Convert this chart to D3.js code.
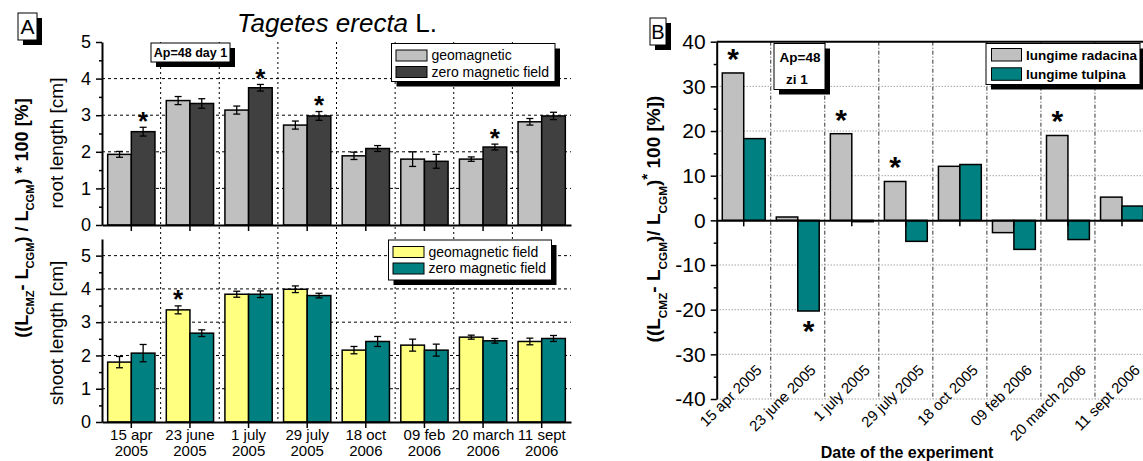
<!DOCTYPE html>
<html>
<head>
<meta charset="utf-8">
<script src="https://cdn.jsdelivr.net/npm/d3@7"></script>
<style>
    body { margin: 0; background: #fff; }
    svg { display: block; font-family: Arial, "Liberation Sans", sans-serif; }
</style>
</head>
<body>
<div id="chart"></div>
<script>
// Dates (panel A two-line labels, panel B one-line labels)
var datesA = [["15 apr", "2005"], ["23 june", "2005"], ["1 july", "2005"], ["29 july", "2005"],
              ["18 oct", "2006"], ["09 feb", "2006"], ["20 march", "2006"], ["11 sept", "2006"]];
var datesB = ["15 apr 2005", "23 june 2005", "1 july 2005", "29 july 2005",
              "18 oct 2005", "09 feb 2006", "20 march 2006", "11 sept 2006"];

// Panel A - root length [cm]
var rootGeo     = [1.93, 3.40, 3.14, 2.73, 1.89, 1.80, 1.80, 2.82];
var rootGeoErr  = [0.08, 0.11, 0.11, 0.11, 0.10, 0.20, 0.06, 0.09];
var rootZero    = [2.55, 3.32, 3.75, 2.98, 2.09, 1.74, 2.13, 2.98];
var rootZeroErr = [0.12, 0.13, 0.09, 0.12, 0.08, 0.19, 0.08, 0.10];
var rootGeoStar  = [0, 0, 0, 0, 0, 0, 0, 0];
var rootZeroStar = [1, 0, 1, 1, 0, 0, 1, 0];

// Panel A - shoot length [cm]
var shootGeo     = [1.80, 3.37, 3.84, 3.99, 2.16, 2.31, 2.55, 2.42];
var shootGeoErr  = [0.17, 0.12, 0.09, 0.10, 0.11, 0.18, 0.06, 0.10];
var shootZero    = [2.07, 2.67, 3.84, 3.80, 2.42, 2.16, 2.44, 2.51];
var shootZeroErr = [0.26, 0.10, 0.10, 0.07, 0.15, 0.18, 0.07, 0.09];
var shootGeoStar  = [0, 1, 0, 0, 0, 0, 0, 0];
var shootZeroStar = [0, 0, 0, 0, 0, 0, 0, 0];

// Panel B - relative difference [%]
var diffRoot  = [33.0, 0.75, 19.4, 8.7, 12.1, -2.75, 19.0, 5.2];
var diffShoot = [18.3, -20.3, -0.3, -4.7, 12.5, -6.5, -4.3, 3.2];
var diffRootStar  = [1, 0, 1, 1, 0, 0, 1, 0];
var diffShootStar = [0, 1, 0, 0, 0, 0, 0, 0];

var ticksTop = [0, 1, 2, 3, 4, 5],
    ticksB = [-40, -30, -20, -10, 0, 10, 20, 30, 40];

var lightGray = "#c0c0c0", darkGray = "#404040", yellow = "#ffff80", teal = "#008080";

var svg = d3.select("#chart").append("svg")
    .attr("width", 1143)
    .attr("height", 461);

// small helper: box with a black drop shadow
function shadowBox(x, y, w, h, off) {
    svg.append("rect").attr("x", x + off).attr("y", y + off).attr("width", w).attr("height", h).attr("fill", "#000");
    svg.append("rect").attr("x", x).attr("y", y).attr("width", w).attr("height", h)
        .attr("fill", "#fff").attr("stroke", "#000").attr("stroke-width", 1);
}

function star(x, cy, size) {
    svg.append("text")
        .attr("x", x)
        .attr("y", cy + 0.56 * size)
        .attr("text-anchor", "middle")
        .style("font-size", size + "px")
        .style("font-weight", "bold")
        .text("*");
}

// plain integer labels with a hyphen minus, as in the original
function plain(d) { return String(d); }

// ================= Panel A =================
var xA = d3.scaleBand().domain(d3.range(8)).range([102, 571]),
    subA = d3.scaleBand().domain([0, 1]).range([0, xA.bandwidth()]).paddingOuter(0.24),
    yTop = d3.scaleLinear().domain([0, 5]).range([225, 42]),
    yBot = d3.scaleLinear().domain([0, 5.5]).range([422, 239]);

// vertical dotted separators (through both sub-plots)
svg.append("g").selectAll("line")
    .data(d3.range(1, 8))
    .enter().append("line")
    .attr("x1", function(d) { return xA(d); })
    .attr("x2", function(d) { return xA(d); })
    .attr("y1", yTop.range()[1])
    .attr("y2", yBot.range()[0])
    .attr("stroke", "#000")
    .attr("stroke-dasharray", "2,3");

// horizontal dashed grid
function hGrid(scale, values) {
    svg.append("g").selectAll("line")
        .data(values)
        .enter().append("line")
        .attr("x1", xA.range()[0]).attr("x2", xA.range()[1])
        .attr("y1", function(d) { return scale(d); })
        .attr("y2", function(d) { return scale(d); })
        .attr("stroke", "#000")
        .attr("stroke-dasharray", "3,3");
}
hGrid(yTop, [1, 2, 3, 4]);
hGrid(yBot, [1, 2, 3, 4, 5]);

function groupBars(y, a, aErr, aStar, b, bErr, bStar, colA, colB) {
    var rows = [];
    d3.range(8).forEach(function(i) {
        rows.push({i: i, k: 0, v: a[i], e: aErr[i], s: aStar[i], c: colA});
        rows.push({i: i, k: 1, v: b[i], e: bErr[i], s: bStar[i], c: colB});
    });
    var g = svg.append("g");
    g.selectAll("rect").data(rows).enter().append("rect")
        .attr("x", function(d) { return xA(d.i) + subA(d.k); })
        .attr("y", function(d) { return y(d.v); })
        .attr("width", subA.bandwidth())
        .attr("height", function(d) { return y(0) - y(d.v); })
        .attr("fill", function(d) { return d.c; })
        .attr("stroke", "#000")
        .attr("stroke-width", 1.5);
    var cx = function(d) { return xA(d.i) + subA(d.k) + subA.bandwidth() / 2; };
    var eb = g.selectAll(".err").data(rows).enter().append("g").attr("class", "err")
        .attr("stroke", "#000").attr("stroke-width", 1.3);
    eb.append("line").attr("x1", cx).attr("x2", cx)
        .attr("y1", function(d) { return y(d.v + d.e); })
        .attr("y2", function(d) { return y(d.v - d.e); });
    eb.append("line").attr("x1", function(d) { return cx(d) - 3.5; }).attr("x2", function(d) { return cx(d) + 3.5; })
        .attr("y1", function(d) { return y(d.v + d.e); }).attr("y2", function(d) { return y(d.v + d.e); });
    eb.append("line").attr("x1", function(d) { return cx(d) - 3.5; }).attr("x2", function(d) { return cx(d) + 3.5; })
        .attr("y1", function(d) { return y(d.v - d.e); }).attr("y2", function(d) { return y(d.v - d.e); });
    rows.filter(function(d) { return d.s; }).forEach(function(d) {
        star(cx(d), y(d.v + d.e) - 12, 26);
    });
}
groupBars(yTop, rootGeo, rootGeoErr, rootGeoStar, rootZero, rootZeroErr, rootZeroStar, lightGray, darkGray);
groupBars(yBot, shootGeo, shootGeoErr, shootGeoStar, shootZero, shootZeroErr, shootZeroStar, yellow, teal);

// axes panel A
function leftAxis(scale, major, minor, x, fs) {
    var ax = svg.append("g")
        .attr("transform", "translate(" + x + ",0)")
        .call(d3.axisLeft(scale).tickValues(major).tickFormat(plain).tickSize(6).tickSizeOuter(0).tickPadding(5));
    ax.selectAll("text").style("font-size", fs + "px").attr("fill", "#000");
    ax.select(".domain").attr("stroke-width", 2);
    ax.selectAll(".tick line").attr("stroke-width", 1.5);
    var mn = svg.append("g")
        .attr("transform", "translate(" + x + ",0)")
        .call(d3.axisLeft(scale).tickValues(minor).tickSize(3).tickFormat(""));
    mn.select(".domain").remove();
    mn.selectAll(".tick line").attr("stroke-width", 1.5);
}
leftAxis(yTop, ticksTop, [0.5, 1.5, 2.5, 3.5, 4.5], 102, 18);
leftAxis(yBot, ticksTop, [0.5, 1.5, 2.5, 3.5, 4.5], 102, 18);

function bottomTicks(y) {
    var ax = svg.append("g")
        .attr("transform", "translate(0," + y + ")")
        .call(d3.axisBottom(xA).tickSize(6).tickSizeOuter(0).tickFormat(""));
    ax.select(".domain").attr("stroke-width", 2);
    ax.selectAll(".tick line").attr("stroke-width", 1.5);
}
bottomTicks(yTop(0));
bottomTicks(yBot(0));

// two-line date labels
var lab = svg.append("g").selectAll("text")
    .data(datesA)
    .enter().append("text")
    .attr("text-anchor", "middle")
    .style("font-size", "15px")
    .attr("transform", function(d, i) { return "translate(" + (xA(i) + xA.bandwidth() / 2) + ",440)"; });
lab.append("tspan").attr("x", 0).attr("y", 0).text(function(d) { return d[0]; });
lab.append("tspan").attr("x", 0).attr("y", 16).text(function(d) { return d[1]; });

// axis titles panel A
svg.append("text")
    .attr("transform", "translate(63,143) rotate(-90)")
    .attr("text-anchor", "middle")
    .style("font-size", "19px")
    .text("root length [cm]");
svg.append("text")
    .attr("transform", "translate(63,333) rotate(-90)")
    .attr("text-anchor", "middle")
    .style("font-size", "19px")
    .text("shoot length [cm]");

function ratioLabel(x, y, fs, parts) {
    var t = svg.append("text")
        .attr("transform", "translate(" + x + "," + y + ") rotate(-90)")
        .attr("text-anchor", "middle")
        .style("font-size", fs + "px")
        .style("font-weight", "bold");
    parts.forEach(function(p) {
        var s = t.append("tspan").text(p[0]);
        if (p[1] === "sub") s.attr("baseline-shift", "sub").style("font-size", (fs * 0.62) + "px");
        if (p[1] === "sup") s.attr("baseline-shift", "super").style("font-size", (fs * 0.8) + "px");
    });
}
ratioLabel(28, 218, 18, [["((L"], ["CMZ", "sub"], ["- L"], ["CGM", "sub"], [") / L"], ["CGM", "sub"], [") * 100 [%]"]]);

// title
var title = svg.append("text")
    .attr("x", 337).attr("y", 32)
    .attr("text-anchor", "middle")
    .style("font-size", "26px");
title.append("tspan").style("font-style", "italic").text("Tagetes erecta");
title.append("tspan").text(" L.");

// panel letter A
shadowBox(18, 13, 19, 27, 5);
svg.append("text").attr("x", 27.5).attr("y", 34).attr("text-anchor", "middle")
    .style("font-size", "21px").text("A");

// Ap box panel A
shadowBox(151, 43, 79, 19, 5);
svg.append("text").attr("x", 190.5).attr("y", 57).attr("text-anchor", "middle")
    .style("font-size", "12.5px").style("font-weight", "bold").text("Ap=48 day 1");

// legends panel A
function legendA(x, y, w, h, items) {
    shadowBox(x, y, w, h, 5);
    items.forEach(function(it, i) {
        svg.append("rect").attr("x", x + 4.5).attr("y", y + 6.5 + i * 16.5).attr("width", 31).attr("height", 11)
            .attr("fill", it[1]).attr("stroke", "#000").attr("stroke-width", 1);
        svg.append("text").attr("x", x + 40).attr("y", y + 16.5 + i * 16.5)
            .style("font-size", "14px").text(it[0]);
    });
}
legendA(391.5, 43.5, 163.5, 38, [["geomagnetic", lightGray], ["zero magnetic field", darkGray]]);
legendA(388.5, 240, 163, 40, [["geomagnetic field", yellow], ["zero magnetic field", teal]]);

// ================= Panel B =================
var xB = d3.scaleBand().domain(d3.range(8)).range([716.7, 1149]),
    subB = d3.scaleBand().domain([0, 1]).range([0, xB.bandwidth()]).paddingOuter(0.26),
    yB = d3.scaleLinear().domain([-40, 40]).range([399, 41.7]);

// dotted horizontal grid
svg.append("g").selectAll("line")
    .data(ticksB.filter(function(d) { return d !== 0 && d !== 40; }))
    .enter().append("line")
    .attr("x1", xB.range()[0]).attr("x2", xB.range()[1])
    .attr("y1", function(d) { return yB(d); })
    .attr("y2", function(d) { return yB(d); })
    .attr("stroke", "#777")
    .attr("stroke-dasharray", "1,2");

// dash-dot vertical separators
svg.append("g").selectAll("line")
    .data(d3.range(1, 8))
    .enter().append("line")
    .attr("x1", function(d) { return xB(d); })
    .attr("x2", function(d) { return xB(d); })
    .attr("y1", yB(40)).attr("y2", yB(-40))
    .attr("stroke", "#333")
    .attr("stroke-dasharray", "4,2,1,2");

var rowsB = [];
d3.range(8).forEach(function(i) {
    rowsB.push({i: i, k: 0, v: diffRoot[i], s: diffRootStar[i], c: lightGray});
    rowsB.push({i: i, k: 1, v: diffShoot[i], s: diffShootStar[i], c: teal});
});
svg.append("g").selectAll("rect")
    .data(rowsB)
    .enter().append("rect")
    .attr("x", function(d) { return xB(d.i) + subB(d.k); })
    .attr("y", function(d) { return Math.min(yB(d.v), yB(0)); })
    .attr("width", subB.bandwidth())
    .attr("height", function(d) { return Math.abs(yB(d.v) - yB(0)); })
    .attr("fill", function(d) { return d.c; })
    .attr("stroke", "#000")
    .attr("stroke-width", 1.5);

rowsB.filter(function(d) { return d.s; }).forEach(function(d) {
    var cx = xB(d.i) + subB(d.k) + subB.bandwidth() / 2;
    if (d.v >= 0) star(cx, yB(d.v) - 21, 30);
    else star(cx, yB(d.v) + 13, 30);
});

// top frame line
svg.append("line")
    .attr("x1", xB.range()[0]).attr("x2", xB.range()[1])
    .attr("y1", yB(40)).attr("y2", yB(40))
    .attr("stroke", "#000").attr("stroke-width", 2);

// zero axis
var zeroAx = svg.append("g")
    .attr("transform", "translate(0," + yB(0) + ")")
    .call(d3.axisBottom(xB).tickSize(6).tickSizeOuter(0).tickFormat(""));
zeroAx.select(".domain").attr("stroke-width", 2);
zeroAx.selectAll(".tick line").attr("stroke-width", 1.5);

leftAxis(yB, ticksB, [-35, -25, -15, -5, 5, 15, 25, 35], 716.7, 21);

// rotated date labels
svg.append("g").selectAll("text")
    .data(datesB)
    .enter().append("text")
    .attr("text-anchor", "end")
    .style("font-size", "15px")
    .attr("transform", function(d, i) {
        return "translate(" + (xB(i) + xB.bandwidth() / 2 + 19) + ",371) rotate(-45)";
    })
    .text(function(d) { return d; });

svg.append("text")
    .attr("x", 907).attr("y", 458)
    .attr("text-anchor", "middle")
    .style("font-size", "16px")
    .style("font-weight", "bold")
    .text("Date of the experiment");

ratioLabel(660, 219, 19, [["((L"], ["CMZ", "sub"], ["- L"], ["CGM", "sub"], [")/ L"], ["CGM", "sub"], [")"], ["*", "sup"], [" 100 [%])"]]);

// panel letter B
shadowBox(650, 18, 16, 27, 5);
svg.append("text").attr("x", 658).attr("y", 39).attr("text-anchor", "middle")
    .style("font-size", "20px").text("B");

// Ap box panel B
shadowBox(774, 43.5, 51, 46, 5);
svg.append("text").attr("x", 800).attr("y", 62).attr("text-anchor", "middle")
    .style("font-size", "13.5px").style("font-weight", "bold").text("Ap=48");
svg.append("text").attr("x", 797).attr("y", 84).attr("text-anchor", "middle")
    .style("font-size", "13.5px").style("font-weight", "bold").text("zi 1");

// legend panel B
shadowBox(986, 43.5, 154, 41, 5);
[["lungime radacina", lightGray], ["lungime tulpina", teal]].forEach(function(it, i) {
    svg.append("rect").attr("x", 991.5).attr("y", 48.5 + i * 19.3).attr("width", 30).attr("height", 12.5)
        .attr("fill", it[1]).attr("stroke", "#000").attr("stroke-width", 1);
    svg.append("text").attr("x", 1026).attr("y", 59.5 + i * 19.3)
        .style("font-size", "13.5px").style("font-weight", "bold").text(it[0]);
});
</script>
</body>
</html>
